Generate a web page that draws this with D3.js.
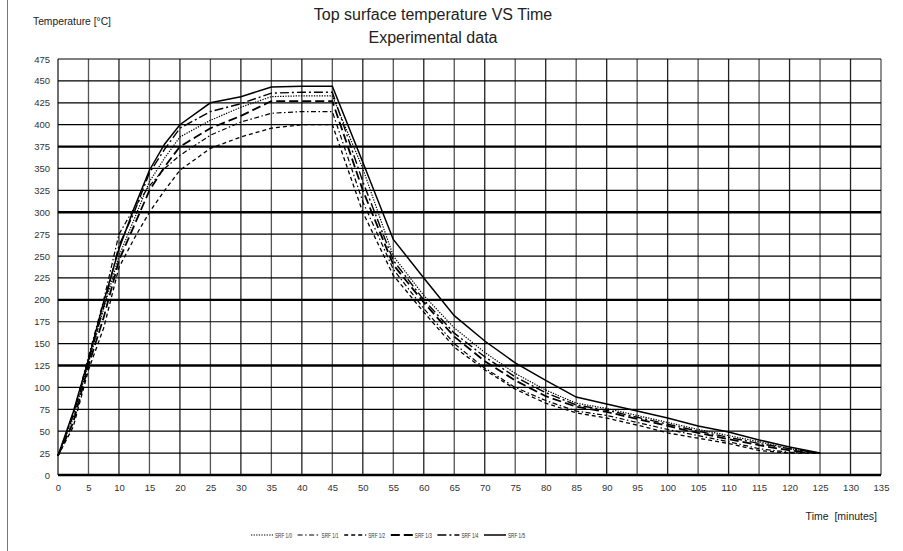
<!DOCTYPE html>
<html><head><meta charset="utf-8">
<script src="https://cdn.jsdelivr.net/npm/d3@7/dist/d3.min.js"></script>
<style>body{margin:0;background:#fff}svg{display:block}</style>
</head><body>
<svg id="c" width="903" height="551"></svg>
<script>
const times = [0, 2.5, 5, 7.5, 10, 12.5, 15, 17.5, 20, 25, 30, 35, 40, 45, 50, 55, 60, 65, 70, 75, 80, 85, 90, 95, 100, 105, 110, 115, 120, 125];
const srf10 = [22, 65, 128, 190, 250, 292, 335, 362, 386, 405, 420, 432, 433, 433, 350, 250, 205, 168, 140, 116, 97, 82, 76, 68, 60, 52, 45, 38, 30, 25];
const srf11 = [22, 70, 135, 200, 275, 305, 330, 350, 365, 388, 403, 413, 415, 415, 312, 235, 190, 150, 122, 100, 85, 73, 68, 60, 52, 45, 38, 30, 26, 25];
const srf12 = [22, 55, 120, 168, 237, 270, 300, 325, 348, 373, 386, 396, 400, 400, 300, 228, 186, 146, 120, 98, 82, 71, 65, 57, 48, 42, 36, 28, 25, 25];
const srf13 = [22, 60, 125, 180, 245, 285, 325, 352, 375, 396, 410, 427, 427, 427, 325, 240, 197, 158, 130, 108, 90, 78, 72, 64, 56, 48, 41, 34, 28, 25];
const srf14 = [22, 68, 130, 192, 262, 300, 345, 372, 396, 415, 424, 436, 437, 437, 335, 245, 200, 162, 135, 112, 94, 80, 74, 66, 58, 50, 43, 36, 30, 25];
const srf15 = [22, 72, 132, 198, 258, 305, 348, 378, 400, 425, 432, 443, 444, 444, 357, 269, 225, 182, 153, 128, 108, 89, 81, 73, 65, 56, 49, 40, 32, 25];
const seriesNames = ["SRF 1/0", "SRF 1/1", "SRF 1/2", "SRF 1/3", "SRF 1/4", "SRF 1/5"];
const seriesValues = [srf10, srf11, srf12, srf13, srf14, srf15];
const xTicks = d3.range(0, 136, 5);
const yTicks = d3.range(0, 476, 25);
const thickY = [0, 125, 200, 300, 375];
const title1 = "Top surface temperature VS Time";
const title2 = "Experimental data";
const yTitle = "Temperature [°C]";
const xTitle = "Time  [minutes]";

const dashes = ["1.3,1.3", "5,2.5,1.5,2.5", "4,3", "9,4", "9,3,2,3", null];
const widths = [1.2, 1.2, 1.3, 1.8, 1.4, 1.5];

const svg = d3.select("#c");
const FONT = "'Liberation Sans', Arial, sans-serif";
const x = d3.scaleLinear().domain([0, 135]).range([58, 881]);
const y = d3.scaleLinear().domain([0, 475]).range([475, 59]);

svg.append("line").attr("x1", 7.5).attr("x2", 7.5).attr("y1", 0).attr("y2", 551)
  .attr("stroke", "#777").attr("stroke-width", 1);

// vertical grid
svg.append("g").selectAll("line").data(xTicks).join("line")
  .attr("x1", d => x(d)).attr("x2", d => x(d)).attr("y1", y(0)).attr("y2", y(475))
  .attr("stroke", (d, i) => i % 2 ? "#555" : "#222").attr("stroke-width", 1.3);
// horizontal grid
svg.append("g").selectAll("line").data(yTicks).join("line")
  .attr("x1", x(0)).attr("x2", x(135)).attr("y1", d => y(d)).attr("y2", d => y(d))
  .attr("stroke", "#000").attr("stroke-width", d => thickY.includes(d) ? 2.4 : 1.2);

// axes labels
const yAxis = d3.axisLeft(y).tickValues(yTicks).tickSize(0).tickPadding(8);
const gy = svg.append("g").attr("transform", `translate(${x(0)},0)`).call(yAxis);
gy.select(".domain").remove();
gy.selectAll("text").attr("font-family", FONT).attr("font-size", 9.5).attr("fill", "#333");
const xAxis = d3.axisBottom(x).tickValues(xTicks).tickSize(0).tickPadding(9);
const gx = svg.append("g").attr("transform", `translate(0,${y(0)})`).call(xAxis);
gx.select(".domain").remove();
gx.selectAll("text").attr("font-family", FONT).attr("font-size", 9.5).attr("fill", "#333");

// lines
const line = d3.line().x((d, i) => x(times[i])).y(d => y(d));
seriesValues.forEach((vals, k) => {
  svg.append("path").datum(vals).attr("d", line).attr("fill", "none")
    .attr("stroke", "#000").attr("stroke-width", widths[k])
    .attr("stroke-dasharray", dashes[k]);
});

// titles
svg.append("text").attr("x", 433).attr("y", 20).attr("text-anchor", "middle")
  .attr("font-family", FONT).attr("font-size", 16).attr("fill", "#222").text(title1);
svg.append("text").attr("x", 433).attr("y", 43).attr("text-anchor", "middle")
  .attr("font-family", FONT).attr("font-size", 16).attr("fill", "#222").text(title2);
svg.append("text").attr("x", 33).attr("y", 25)
  .attr("font-family", FONT).attr("font-size", 10.3).attr("fill", "#222").text(yTitle);
svg.append("text").attr("x", 877).attr("y", 520).attr("text-anchor", "end")
  .attr("font-family", FONT).attr("font-size", 10.5).attr("fill", "#222").attr("xml:space", "preserve").text(xTitle);

// legend
const lg = svg.append("g");
seriesNames.forEach((name, k) => {
  const lx = 251 + k * 46.6;
  lg.append("line").attr("x1", lx).attr("x2", lx + 22).attr("y1", 535).attr("y2", 535)
    .attr("stroke", "#000").attr("stroke-width", widths[k]).attr("stroke-dasharray", dashes[k]);
  lg.append("text").attr("x", lx + 24).attr("y", 538).attr("font-family", FONT)
    .attr("font-size", 7).attr("fill", "#333")
    .attr("textLength", 17).attr("lengthAdjust", "spacingAndGlyphs").text(name);
});
</script>
</body></html>
